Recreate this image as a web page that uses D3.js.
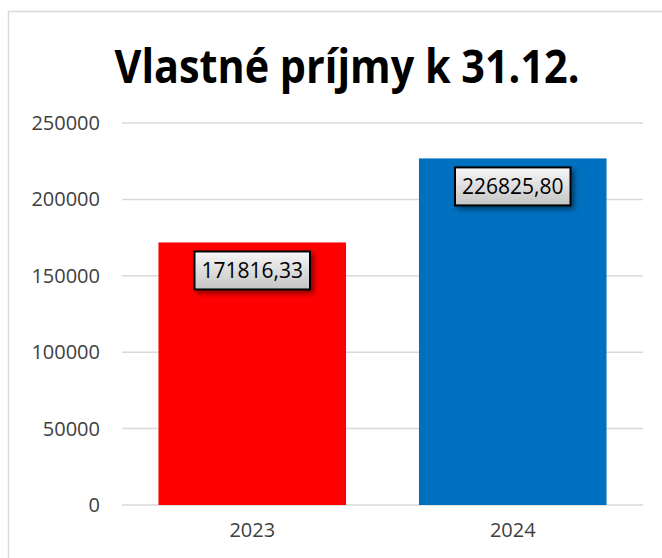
<!DOCTYPE html>
<html>
<head>
<meta charset="utf-8">
<script src="https://cdn.jsdelivr.net/npm/d3@7"></script>
<style>
  body { margin: 0; background: #fff; }
  svg { display: block; }
  text { font-family: "Open Sans", sans-serif; }
</style>
</head>
<body>
<svg id="chart" width="662" height="558"></svg>
<script>

var title = 'Vlastné príjmy k 31.12.';
var years = ['2023', '2024'];
var values = [171816.33, 226825.80];
var valueLabels = ['171816,33', '226825,80'];
var barColors = ['#ff0000', '#0070c0'];
var yTicks = [0, 50000, 100000, 150000, 200000, 250000];

var svg = d3.select('#chart'),
    plotLeft = 122,
    plotRight = 643,
    plotTop = 123,
    plotBottom = 505,
    x = d3.scaleBand()
          .domain(years)
          .range([plotLeft, plotRight])
          .paddingInner(0.28)
          .paddingOuter(0.14),
    y = d3.scaleLinear()
          .domain([0, 250000])
          .range([plotBottom, plotTop])
    ;

var defs = svg.append('defs');

var grad = defs.append('linearGradient')
    .attr('id', 'labelFill')
    .attr('x1', 0).attr('y1', 0)
    .attr('x2', 0).attr('y2', 1)
  ;
grad.append('stop').attr('offset', '0%').attr('stop-color', '#f7f7f7');
grad.append('stop').attr('offset', '100%').attr('stop-color', '#c4c4c4');

var shadow = defs.append('filter')
    .attr('id', 'labelShadow')
    .attr('x', '-20%').attr('y', '-30%')
    .attr('width', '150%').attr('height', '180%')
  ;
shadow.append('feDropShadow')
    .attr('dx', 3)
    .attr('dy', 3)
    .attr('stdDeviation', 2.5)
    .attr('flood-color', '#000')
    .attr('flood-opacity', 0.45)
  ;

// chart frame (only left and top edges are visible)
svg.append('path')
    .attr('d', 'M8.5,558 V11.5 H662')
    .attr('fill', 'none')
    .attr('stroke', '#d9d9d9')
    .attr('stroke-width', 1.5)
  ;

svg.append('text')
    .attr('x', 347)
    .attr('y', 83)
    .attr('text-anchor', 'middle')
    .attr('font-size', 47)
    .attr('font-weight', 'bold')
    .attr('textLength', 465)
    .attr('lengthAdjust', 'spacingAndGlyphs')
    .attr('fill', '#000')
    .text(title)
  ;

// gridlines
svg.append('g')
    .selectAll('line')
    .data(yTicks)
    .enter().append('line')
      .attr('x1', plotLeft)
      .attr('x2', plotRight)
      .attr('y1', function(d) { return y(d); })
      .attr('y2', function(d) { return y(d); })
      .attr('stroke', '#d9d9d9')
      .attr('stroke-width', 1.5)
  ;

var yAxis = svg.append('g')
    .attr('transform', 'translate(100,0)')
    .call(d3.axisLeft(y).tickValues(yTicks).tickSize(0).tickPadding(0).tickFormat(d3.format('d')))
  ;
yAxis.select('.domain').remove();
yAxis.selectAll('text')
    .attr('font-family', '"Open Sans", sans-serif')
    .attr('font-size', 20)
    .attr('fill', '#404040')
  ;

var xAxis = svg.append('g')
    .attr('transform', 'translate(0,' + plotBottom + ')')
    .call(d3.axisBottom(x).tickSize(0).tickPadding(18))
  ;
xAxis.select('.domain').remove();
xAxis.selectAll('text')
    .attr('font-family', '"Open Sans", sans-serif')
    .attr('font-size', 20)
    .attr('fill', '#404040')
  ;

svg.append('g')
    .selectAll('rect')
    .data(values)
    .enter().append('rect')
      .attr('x', function(d, i) { return x(years[i]); })
      .attr('y', function(d) { return y(d); })
      .attr('width', x.bandwidth())
      .attr('height', function(d) { return y(0) - y(d); })
      .attr('fill', function(d, i) { return barColors[i]; })
  ;

// data labels
var labels = svg.append('g')
    .selectAll('g')
    .data(values)
    .enter().append('g')
      .attr('transform', function(d, i) {
        return 'translate(' + (x(years[i]) + x.bandwidth() / 2) + ',' + (y(d) + 9) + ')';
      })
  ;

labels.append('text')
    .attr('class', 'lbl')
    .attr('text-anchor', 'middle')
    .attr('y', 27)
    .attr('font-size', 21)
    .attr('fill', '#000')
    .text(function(d, i) { return valueLabels[i]; })
  ;

labels.each(function() {
  var g = d3.select(this),
      bb = g.select('text').node().getBBox(),
      w = bb.width + 14;
  g.insert('rect', 'text')
      .attr('x', -w / 2)
      .attr('y', 0)
      .attr('width', w)
      .attr('height', 38)
      .attr('fill', 'url(#labelFill)')
      .attr('stroke', '#000')
      .attr('stroke-width', 2)
      .attr('filter', 'url(#labelShadow)')
  ;
});

</script>
</body>
</html>
